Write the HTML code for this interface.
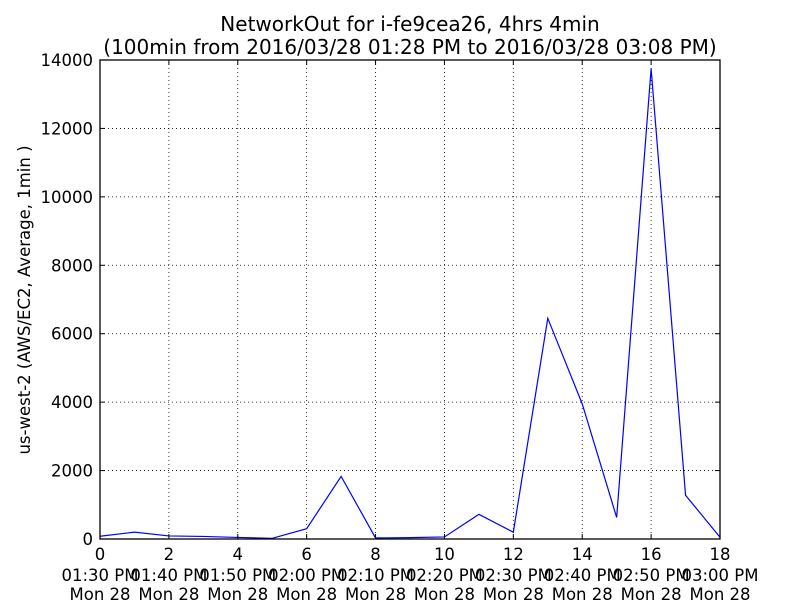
<!DOCTYPE html>
<html><head><meta charset="utf-8"><style>
body{margin:0;background:#fff;}
svg text{font-family:"DejaVu Sans","Liberation Sans",sans-serif;}
</style></head><body>
<svg id="chart" width="800" height="600" xmlns="http://www.w3.org/2000/svg"></svg>
<script>
const xTicks = [0,2,4,6,8,10,12,14,16,18];
const xTimeLabels = ["01:30 PM","01:40 PM","01:50 PM","02:00 PM","02:10 PM","02:20 PM","02:30 PM","02:40 PM","02:50 PM","03:00 PM"];
const yTicks = [0,2000,4000,6000,8000,10000,12000,14000];
const xValues = [0,1,2,3,4,5,6,7,8,9,10,11,12,13,14,15,16,17,18];
const networkOut = [80,200,90,75,45,20,300,1830,30,40,60,720,200,6450,3950,630,13750,1280,50];

const svg = document.getElementById('chart');
const NS = 'http://www.w3.org/2000/svg';
const L=100,R=720,T=60,B=539;
const xs = v => L + (v-0)/(18-0)*(R-L);
const ys = v => B - v/14000*(B-T);
function mk(tag, attrs){const e=document.createElementNS(NS,tag);for(const k in attrs)e.setAttribute(k,attrs[k]);svg.appendChild(e);return e;}
function txt(x,y,s,size,anchor,extra){const t=mk('text',Object.assign({x:x,y:y,'font-size':size,'text-anchor':anchor||'middle',fill:'#000'},extra||{}));t.textContent=s;return t;}

let t;
t=txt(410,31,'NetworkOut for i-fe9cea26, 4hrs 4min',20);


t=txt(410,54,'(100min from 2016/03/28 01:28 PM to 2016/03/28 03:08 PM)',20);



xTicks.forEach(v=>{const g=mk('line',{x1:xs(v),x2:xs(v),y1:T,y2:B,stroke:'#000','stroke-width':0.8,'stroke-dasharray':'1,3'});

});
yTicks.forEach(v=>{const g=mk('line',{x1:L,x2:R,y1:ys(v),y2:ys(v),stroke:'#000','stroke-width':0.8,'stroke-dasharray':'1,3'});

});

const line = mk('polyline',{points:xValues.map((x,i)=>xs(x)+','+ys(networkOut[i])).join(' '),fill:'none',stroke:'#0000ff','stroke-width':1.2});



const fr = mk('rect',{x:L,y:T,width:R-L,height:B-T,fill:'none',stroke:'#000','stroke-width':1.3});



xTicks.forEach((v,i)=>{
  mk('line',{x1:xs(v),x2:xs(v),y1:B,y2:B-5,stroke:'#000'});
  mk('line',{x1:xs(v),x2:xs(v),y1:T,y2:T+5,stroke:'#000'});
  const a=txt(xs(v),560,String(v),16.5);
  
  
  const b=txt(xs(v),581,xTimeLabels[i],16.5);
  
  
  const c=txt(xs(v),600,'Mon 28',16.5);
  
  
});
yTicks.forEach(v=>{
  mk('line',{x1:L,x2:L+5,y1:ys(v),y2:ys(v),stroke:'#000'});
  mk('line',{x1:R,x2:R-5,y1:ys(v),y2:ys(v),stroke:'#000'});
  const a=txt(93,ys(v)+6,String(v),16.5,'end');
  
  
});
t=txt(0,0,'us-west-2 (AWS/EC2, Average, 1min )',16.5,'middle',{transform:'translate(30,300) rotate(-90)'});


</script>
</body></html>
